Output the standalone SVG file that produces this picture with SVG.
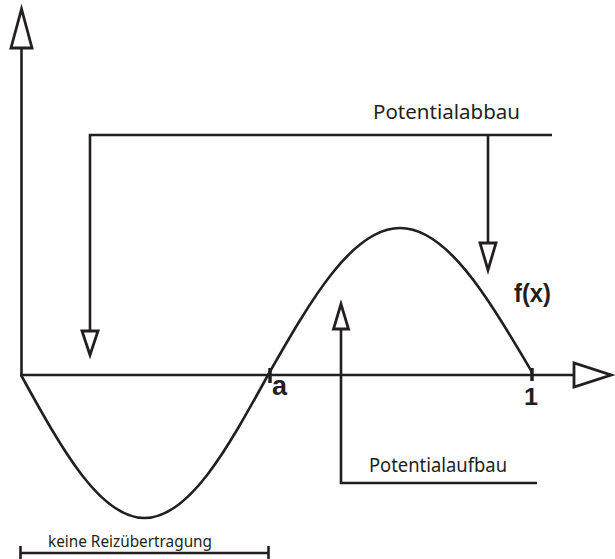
<svg xmlns="http://www.w3.org/2000/svg" width="615" height="559" viewBox="0 0 615 559">
<style>
.ln{fill:none;stroke:#231f20;stroke-width:2.6;stroke-linecap:butt}
.hd{fill:#fff;stroke:#231f20;stroke-width:2.8;stroke-linejoin:miter}
.lbl{font-family:"Noto Sans","Open Sans",sans-serif;fill:#231f20}
.bld{font-family:"Liberation Sans","Arial",sans-serif;font-weight:bold;fill:#231f20}
</style>
<rect width="615" height="559" fill="#fff"/>
<g id="axes">
<line class="ln" x1="21.5" y1="48" x2="21.5" y2="376"/>
<polygon class="hd" points="21.5,9 11,48 32,48"/>
<line class="ln" x1="20" y1="375" x2="574" y2="375"/>
<polygon class="hd" points="574,363 574,387 611,375"/>
<line class="ln" x1="270" y1="368" x2="270" y2="383" style="stroke-width:3.5"/>
<line class="ln" x1="532" y1="368" x2="532" y2="381" style="stroke-width:3.5"/>
<text class="bld" x="272" y="395" font-size="28" textLength="15" lengthAdjust="spacingAndGlyphs">a</text>
<text class="bld" x="524" y="405" font-size="24" textLength="14" lengthAdjust="spacingAndGlyphs">1</text>
</g>
<g id="curve">
<path class="ln" d="M21,375 C61.3,448.3 99.8,518 144.5,518 C189.2,518 227.7,448.3 268,375 C311,299.7 352.2,228 400,228 C447.8,228 489,299.7 532,372"/>
<text class="bld" x="514" y="302" font-size="26" textLength="37" lengthAdjust="spacingAndGlyphs">f(x)</text>
</g>
<g id="connectors">
<g id="abbau">
<polyline class="ln" points="90,331 90,135 552,135"/>
<line class="ln" x1="488" y1="135" x2="488" y2="243"/>
<polygon class="hd" points="82,331 98,331 90,355"/>
<polygon class="hd" points="480,243 496,243 488,270"/>
<text class="lbl" x="373" y="119" font-size="20.5" textLength="147" lengthAdjust="spacingAndGlyphs">Potentialabbau</text>
</g>
<g id="aufbau">
<polyline class="ln" points="341,329 341,483 537,483"/>
<polygon class="hd" points="341,304 333.5,329 348.5,329"/>
<text class="lbl" x="369" y="472" font-size="19" textLength="138" lengthAdjust="spacingAndGlyphs">Potentialaufbau</text>
</g>
<g id="keine">
<line class="ln" x1="20" y1="553" x2="269" y2="553"/>
<line class="ln" x1="20.5" y1="546" x2="20.5" y2="559"/>
<line class="ln" x1="268.5" y1="546" x2="268.5" y2="559"/>
<text class="lbl" x="48" y="547" font-size="15.5" textLength="164" lengthAdjust="spacingAndGlyphs">keine Reizübertragung</text>
</g>
</g>
</svg>
